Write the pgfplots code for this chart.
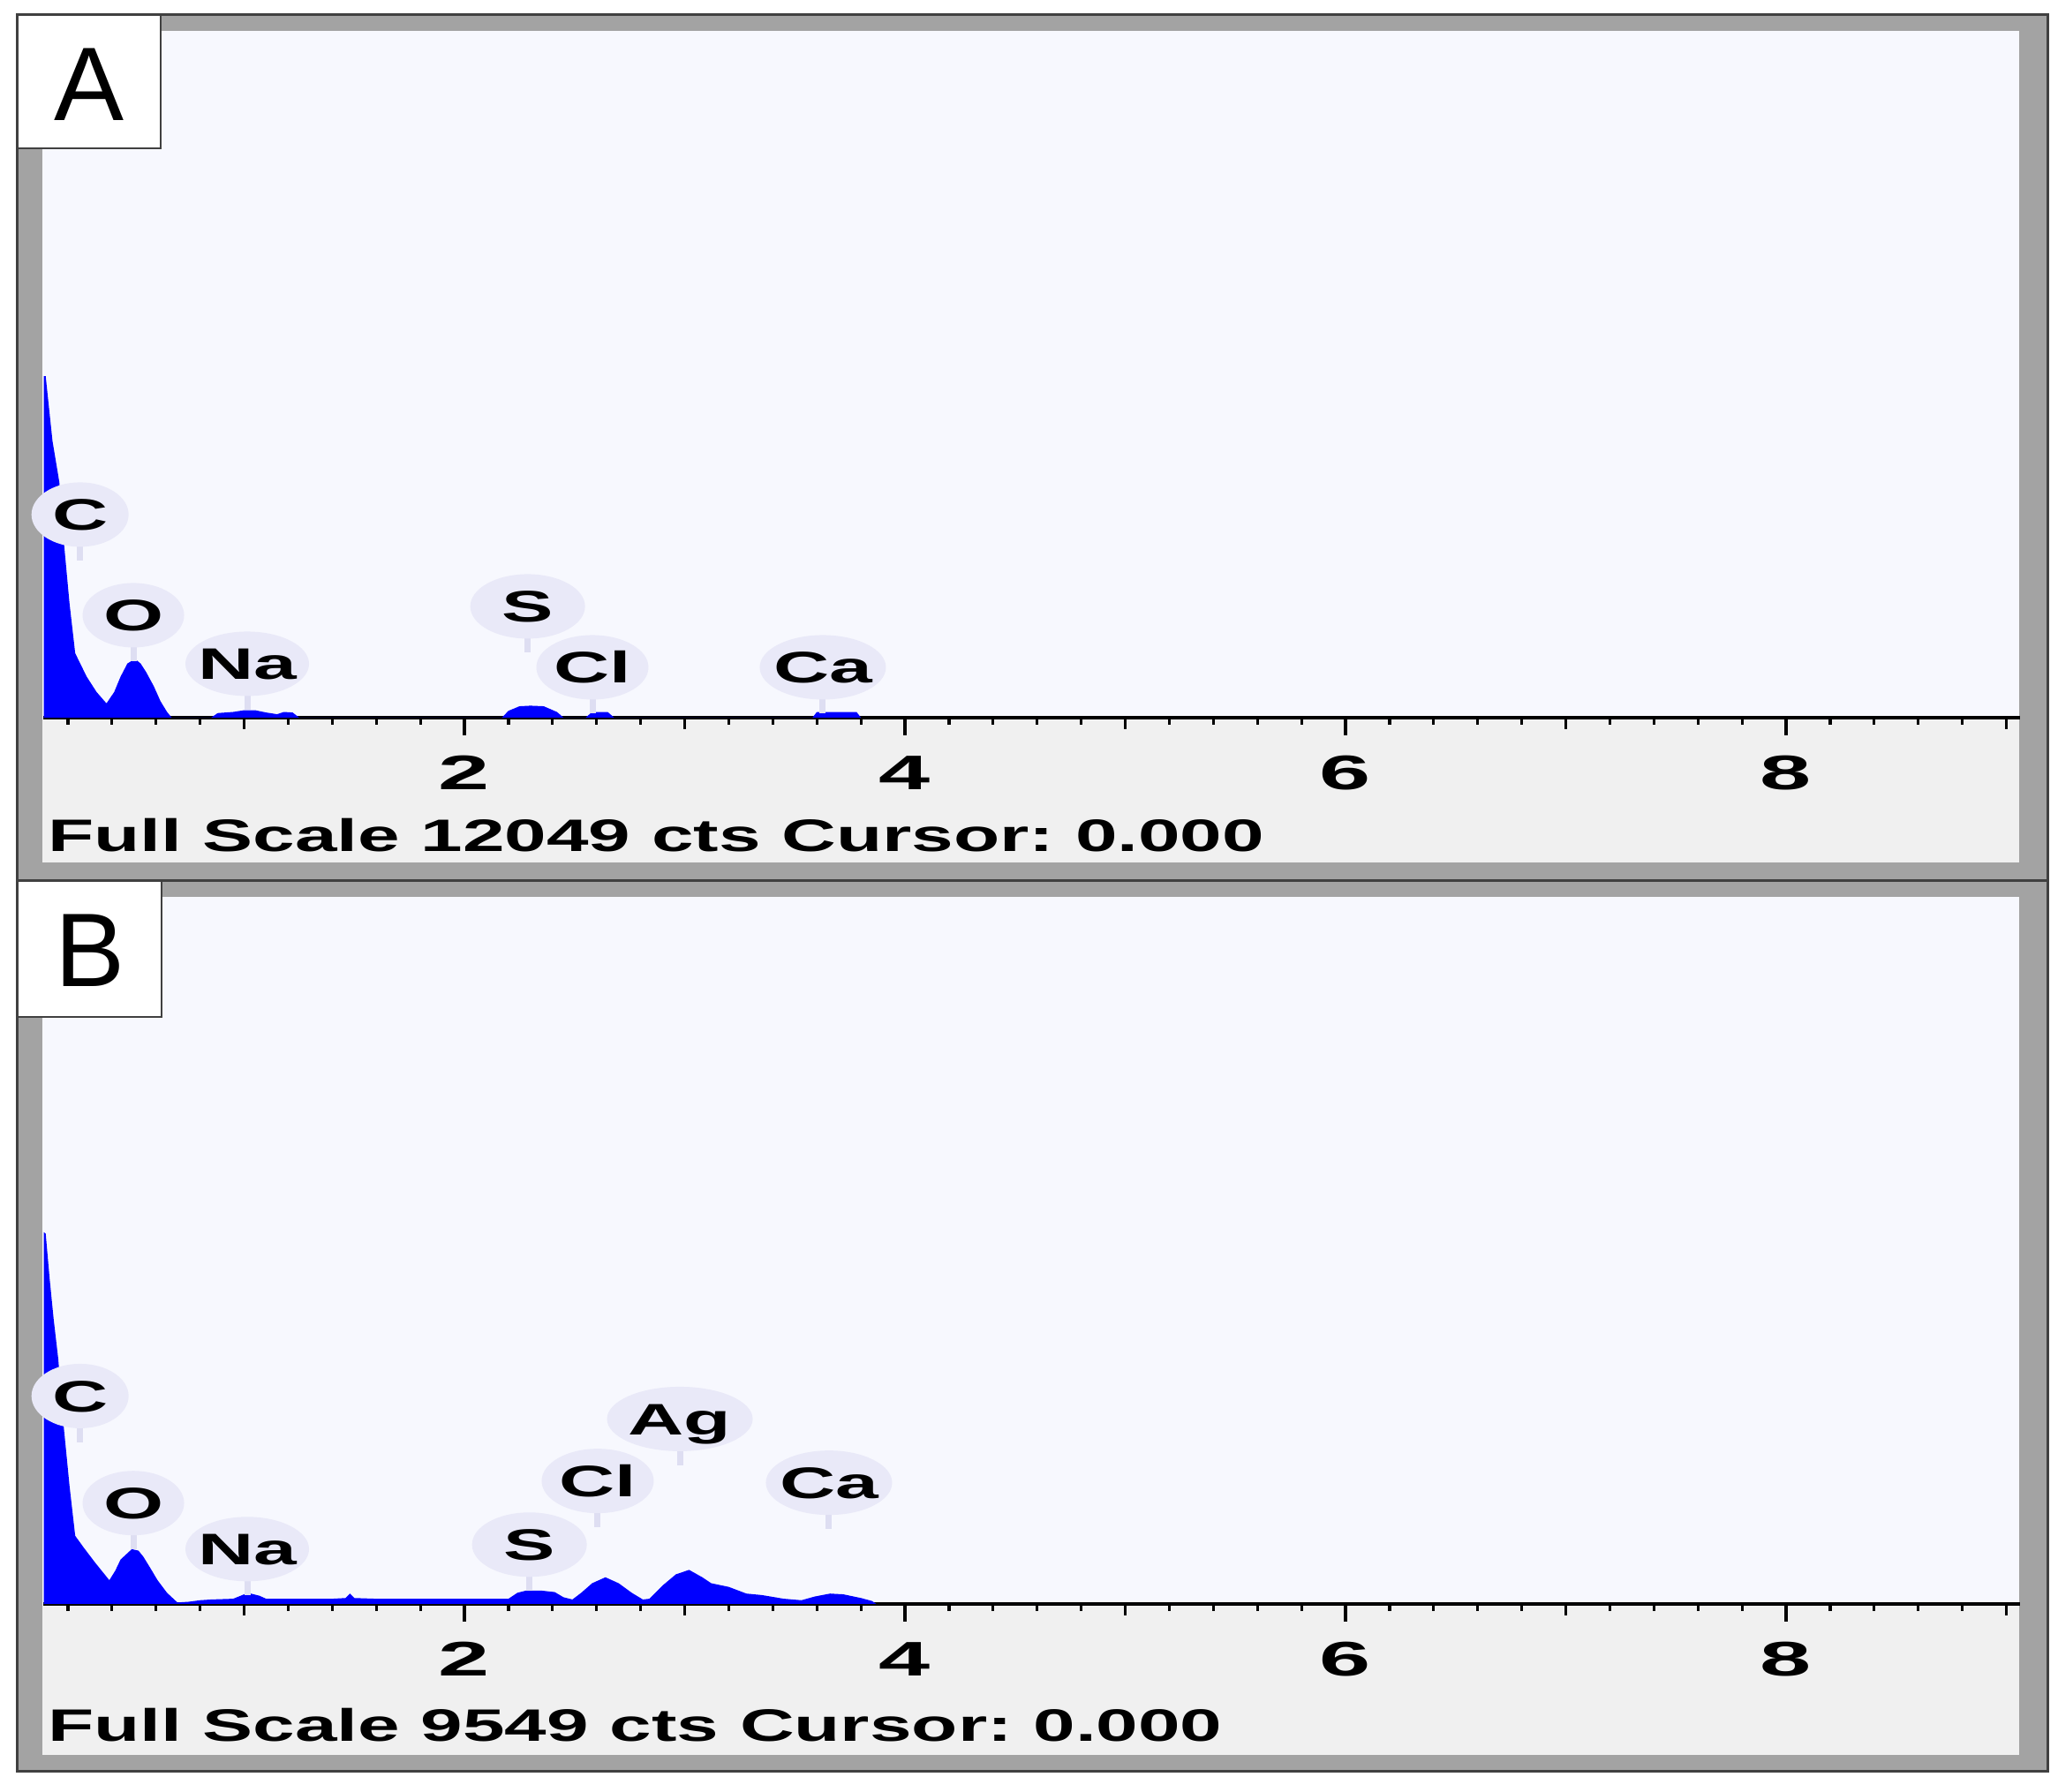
\documentclass[border=0pt]{standalone}
\usepackage{pgfplots}
\pgfplotsset{compat=1.18}
\usepackage{graphicx}
\usepackage{fontspec}
\setmainfont{Liberation Sans}
\frenchspacing

\definecolor{bordergray}{RGB}{163,163,163}
\definecolor{framedark}{RGB}{64,64,64}
\definecolor{lowgray}{RGB}{240,240,240}
\definecolor{plotbg}{RGB}{247,248,254}
\definecolor{bubble}{RGB}{233,233,248}
\definecolor{stem}{RGB}{222,222,242}
\definecolor{edsblue}{RGB}{0,0,255}

\newcommand{\sx}[2][1.75]{\scalebox{#1}[1]{#2}}
% \elem{x}{y}{text}{bubble x radius}
\newcommand{\elem}[4]{%
  \draw[stem, line width=1.4pt] ([yshift=-6pt]axis cs:#1,#2) -- ++(0pt,-4.5pt);
  \fill[bubble] (axis cs:#1,#2) ellipse [x radius=#4, y radius=7.3pt];
  \node[anchor=base, inner sep=0pt, font=\bfseries\fontsize{10}{11}\selectfont] at ([yshift=-3.6pt]axis cs:#1,#2) {\sx{#3}};
}

\pgfplotsset{edsaxis/.style={
  anchor=south west, scale only axis,
  width=447.6pt,
  xmin=0.09, xmax=9.06, ymin=0,
  axis x line=bottom, axis y line=none,
  x axis line style={-, line width=0.7pt, black},
  xtick={2,4,6,8},
  xticklabels={\sx[1.9]{2},\sx[1.9]{4},\sx[1.9]{6},\sx[1.9]{8}},
  minor xtick={0.2,0.4,0.6,0.8,1.2,1.4,1.6,1.8,2.2,2.4,2.6,2.8,3.2,3.4,3.6,3.8,4.2,4.4,4.6,4.8,5.2,5.4,5.6,5.8,6.2,6.4,6.6,6.8,7.2,7.4,7.6,7.8,8.2,8.4,8.6,8.8},
  extra x ticks={1,3,5,7,9},
  extra x tick labels={},
  extra x tick style={major tick length=2.6pt},
  tick align=outside,
  major tick length=4pt, minor tick length=1.6pt,
  every tick/.style={line width=0.65pt, black},
  xticklabel style={font=\bfseries\fontsize{11}{12}\selectfont, anchor=center, yshift=-8.5pt, inner sep=0pt},
  clip=false,
}}

\begin{document}
\begin{tikzpicture}
% page
\fill[white] (0,0) rectangle (466.2pt,406pt);
% panel A frame
\fill[bordergray] (3.8pt,206.4pt) rectangle (463.8pt,402.6pt);
\fill[lowgray] (9.6pt,210.6pt) rectangle (457.4pt,399pt);
\fill[plotbg] (9.6pt,243.4pt) rectangle (457.4pt,399pt);
\draw[framedark, line width=0.6pt] (3.8pt,206.4pt) rectangle (463.8pt,402.6pt);
% panel B frame
\fill[bordergray] (3.8pt,4.6pt) rectangle (463.8pt,206.4pt);
\fill[lowgray] (9.6pt,8.4pt) rectangle (457.4pt,202.8pt);
\fill[plotbg] (9.6pt,42.6pt) rectangle (457.4pt,202.8pt);
\draw[framedark, line width=0.6pt] (3.8pt,4.6pt) rectangle (463.8pt,206.4pt);

% ---------- Panel A ----------
\begin{axis}[edsaxis, at={(9.9pt,243.4pt)}, height=155.6pt, ymax=12049]
\addplot[fill=edsblue, draw=none] coordinates {
(0.090,0) (0.091,5990) (0.099,5990) (0.115,5400) (0.130,4850) (0.161,4130)
(0.181,3100) (0.207,2010) (0.233,1130) (0.285,720) (0.330,450) (0.375,250)
(0.410,450) (0.439,720) (0.470,950) (0.504,1030) (0.530,950) (0.555,800)
(0.590,550) (0.620,290) (0.650,100) (0.671,0)
(0.85,0) (0.88,80) (0.95,100) (1.00,130) (1.05,130) (1.10,90) (1.15,60)
(1.18,100) (1.22,90) (1.25,0)
(2.17,0) (2.20,120) (2.25,200) (2.30,210) (2.36,200) (2.42,100) (2.45,0)
(2.55,0) (2.58,100) (2.65,100) (2.68,0)
(3.58,0) (3.60,100) (3.78,100) (3.80,0)
} \closedcycle;
\elem{0.255}{3563}{C}{11pt}
\elem{0.497}{1797}{O}{11.5pt}
\elem{1.014}{945}{Na}{14pt}
\elem{2.287}{1952}{S}{13pt}
\elem{2.581}{883}{Cl}{12.7pt}
\elem{3.627}{883}{Ca}{14.3pt}
\end{axis}
\node[anchor=base west, inner sep=0pt, font=\bfseries\fontsize{10.3}{11}\selectfont] at (10.6pt,213pt) {\sx[1.66]{Full Scale 12049 cts Cursor: 0.000}};

% ---------- Panel B ----------
\begin{axis}[edsaxis, at={(9.9pt,42.6pt)}, height=160.2pt, ymax=9549]
\addplot[fill=edsblue, draw=none] coordinates {
(0.090,0) (0.091,5020) (0.099,5000) (0.117,4390) (0.135,3850) (0.156,3310)
(0.181,2390) (0.207,1600) (0.233,920) (0.272,760) (0.323,560) (0.388,320)
(0.415,450) (0.439,600) (0.490,740) (0.520,720) (0.542,640) (0.575,480)
(0.607,320) (0.650,150) (0.697,20) (0.75,30) (0.80,50) (0.85,60) (0.95,70)
(1.00,130) (1.03,140) (1.07,110) (1.10,70) (1.40,70) (1.46,80) (1.48,140)
(1.50,80) (1.60,70) (2.20,70) (2.24,150) (2.28,180) (2.35,180) (2.41,160)
(2.45,90) (2.49,60) (2.53,150) (2.58,280) (2.64,360) (2.70,280) (2.76,150)
(2.81,60) (2.84,70) (2.90,250) (2.96,400) (3.02,460) (3.08,360) (3.12,280)
(3.20,230) (3.28,140) (3.35,120) (3.45,70) (3.53,50) (3.59,100) (3.66,140)
(3.72,130) (3.80,80) (3.85,40) (3.87,0)
} \closedcycle;
\elem{0.255}{2808}{C}{11pt}
\elem{0.497}{1362}{O}{11.5pt}
\elem{1.014}{741}{Na}{14pt}
\elem{2.295}{801}{S}{13pt}
\elem{2.605}{1661}{Cl}{12.7pt}
\elem{2.978}{2498}{Ag}{16.5pt}
\elem{3.655}{1637}{Ca}{14.3pt}
\end{axis}
\node[anchor=base west, inner sep=0pt, font=\bfseries\fontsize{10.3}{11}\selectfont] at (10.6pt,11.4pt) {\sx[1.66]{Full Scale 9549 cts Cursor: 0.000}};

% panel letter boxes
\draw[framedark, fill=white, line width=0.5pt] (4pt,372.4pt) rectangle (36.4pt,402.6pt);
\node[anchor=base, inner sep=0pt, font=\fontsize{23.7}{28}\selectfont] at (20.3pt,378.6pt) {A};
\draw[framedark, fill=white, line width=0.5pt] (4pt,175.6pt) rectangle (36.6pt,206.4pt);
\node[anchor=base, inner sep=0pt, font=\fontsize{23.7}{28}\selectfont] at (20.4pt,182.4pt) {B};
\end{tikzpicture}
\end{document}
